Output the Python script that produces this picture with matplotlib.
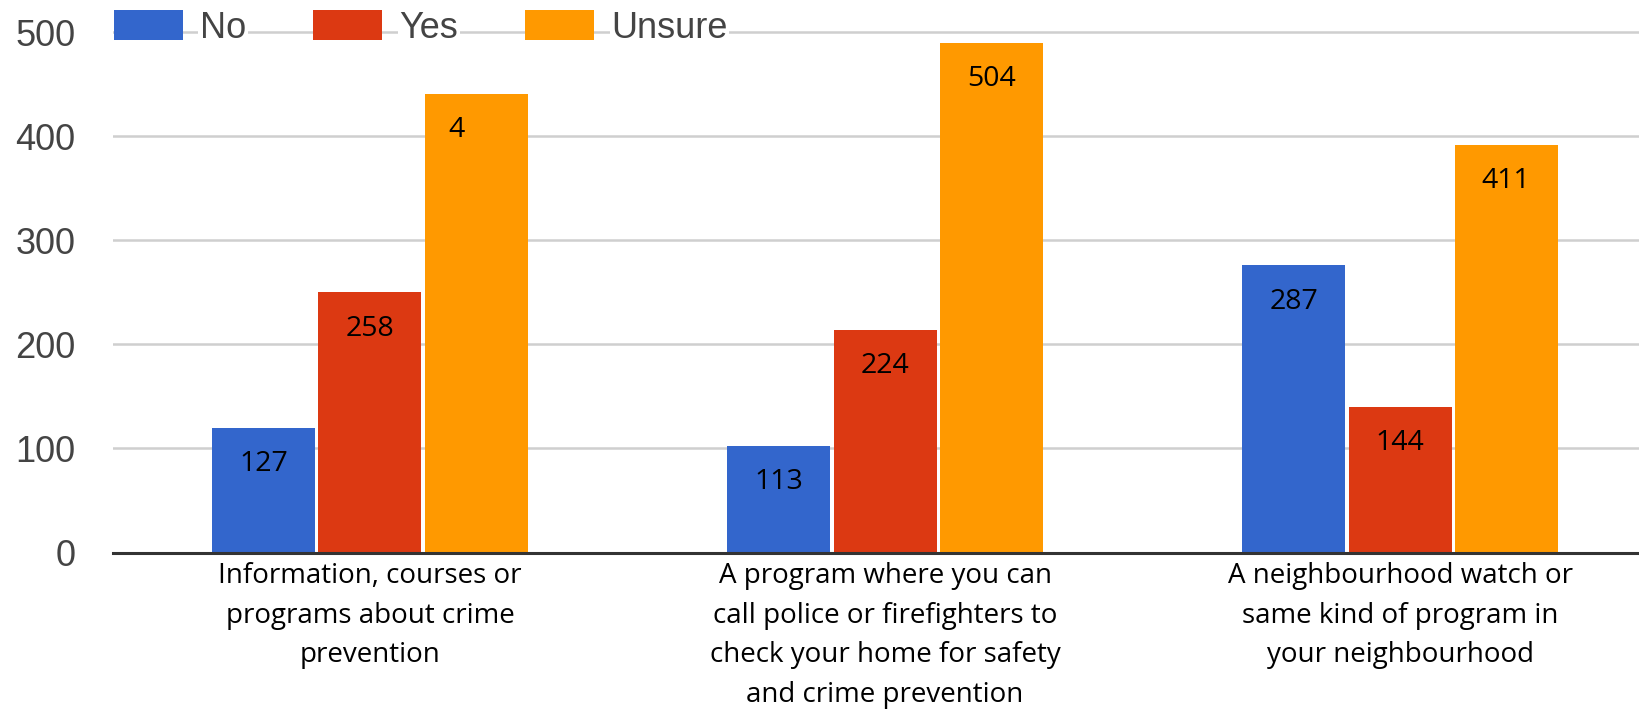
import numpy as np
import matplotlib
matplotlib.use("Agg")
from matplotlib import pyplot as plt

# data
categories = ['Information, courses or\nprograms about crime\nprevention',
              'A program where you can\ncall police or firefighters to\ncheck your home for safety\nand crime prevention',
              'A neighbourhood watch or\nsame kind of program in\nyour neighbourhood']
series = ['No', 'Yes', 'Unsure']
no_vals = [120, 102, 276]
yes_vals = [250, 214, 140]
unsure_vals = [441, 490, 392]
# the printed labels do not always match the bar heights
no_labels = ['127', '113', '287']
yes_labels = ['258', '224', '144']
unsure_labels = ['4', '504', '411']
yticks = [0, 100, 200, 300, 400, 500]

colors = ['#3366CC', '#DC3912', '#FF9900']

fig = plt.figure(figsize=(16.39, 7.09), dpi=100)
ax = fig.add_axes([113/1639, 1 - 552.5/709, 1 - 113/1639, (552.5 - 30.4)/709])

x = np.arange(len(categories))
step = 0.206
width = 0.2
all_vals = [no_vals, yes_vals, unsure_vals]
all_labels = [no_labels, yes_labels, unsure_labels]

for i, (name, vals, labs) in enumerate(zip(series, all_vals, all_labels)):
    pos = x + (i - 1) * step
    ax.bar(pos, vals, width, color=colors[i], label=name, zorder=3)
    for px, h, lab in zip(pos, vals, labs):
        dx = -14 if len(lab) == 1 else 0
        ax.annotate(lab, (px, h), xytext=(dx, -31), textcoords='offset points',
                    ha='center', va='baseline', fontsize=20.5,
                    family='Open Sans', color='black', zorder=4)

ax.set_xlim(-0.499, 2.464)
ax.set_ylim(0, 502)
ax.set_yticks(yticks)
ax.set_xticks(x)
ax.set_xticklabels(categories, fontsize=20, family='Open Sans', color='black',
                   linespacing=1.55)
ax.tick_params(axis='both', length=0)
ax.tick_params(axis='x', pad=7)
ax.tick_params(axis='y', pad=27, labelsize=26, labelcolor='#444444')
for t in ax.get_yticklabels():
    t.set_family('Liberation Sans')

ax.grid(axis='y', color='#cfcfcf', linewidth=1.8, zorder=0)
for s in ['top', 'right', 'left']:
    ax.spines[s].set_visible(False)
ax.spines['bottom'].set_color('#333333')
ax.spines['bottom'].set_linewidth(2.2)
ax.spines['bottom'].set_zorder(5)

leg = ax.legend(loc='center left', bbox_to_anchor=(114/1639, 1 - 28/709),
                bbox_transform=fig.transFigure, ncol=3, frameon=False,
                borderpad=0, borderaxespad=0, handlelength=1.91, handleheight=0.91,
                handletextpad=0.47, columnspacing=1.86,
                prop={'family': 'Liberation Sans', 'size': 26})
for t in leg.get_texts():
    t.set_color('#444444')
    t.set_bbox(dict(facecolor='white', edgecolor='none', pad=1))

plt.savefig('out.png', dpi=100)
